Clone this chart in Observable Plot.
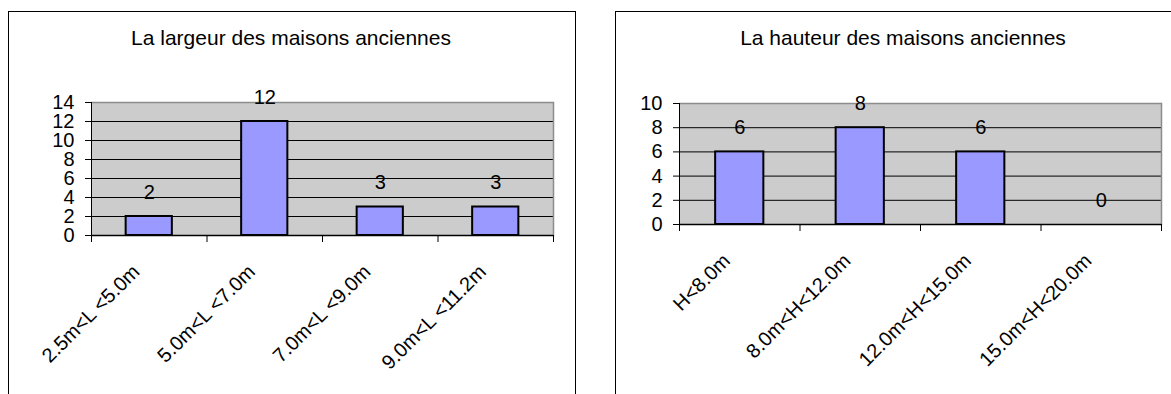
<!DOCTYPE html>
<html>
<head>
<meta charset="utf-8">
<script src="https://cdn.jsdelivr.net/npm/d3@7"></script>
<script src="https://cdn.jsdelivr.net/npm/@observablehq/plot@0.6"></script>
<style>
  html, body { margin: 0; padding: 0; background: #fff; }
  #page { position: relative; width: 1171px; height: 394px; overflow: hidden; font-family: "Liberation Sans", Arial, sans-serif; color: #000; }
  .panel { position: absolute; border: 1px solid #000; box-sizing: border-box; }
  .title { position: absolute; text-align: center; font-size: 21px; line-height: 21px; white-space: nowrap; }
  .chart { position: absolute; top: 0; }
</style>
</head>
<body>
<div id="page"></div>
<script>
// ---- data ----
const widthTitle = "La largeur des maisons anciennes";
const widthCategories = ["2.5m<L <5.0m", "5.0m<L <7.0m", "7.0m<L <9.0m", "9.0m<L <11.2m"];
const widthValues = [2, 12, 3, 3];
const widthTicks = [0, 2, 4, 6, 8, 10, 12, 14];

const heightTitle = "La hauteur des maisons anciennes";
const heightCategories = ["H<8.0m", "8.0m<H<12.0m", "12.0m<H<15.0m", "15.0m<H<20.0m"];
const heightValues = [6, 8, 6, 0];
const heightTicks = [0, 2, 4, 6, 8, 10];

// ---- drawing ----
const page = document.getElementById("page");

function addPanel(left, top, width, height) {
  const d = document.createElement("div");
  d.className = "panel";
  Object.assign(d.style, {left: left + "px", top: top + "px", width: width + "px", height: height + "px"});
  page.appendChild(d);
}
function addTitle(text, center, top) {
  const d = document.createElement("div");
  d.className = "title";
  d.textContent = text;
  Object.assign(d.style, {left: (center - 250) + "px", width: "500px", top: top + "px"});
  page.appendChild(d);
}

function makeChart(categories, values, ticks, cfg) {
  const data = categories.map((c, i) => ({i, cat: c, value: values[i]}));
  const ymax = ticks[ticks.length - 1];
  const bounds = d3.range(categories.length + 1);
  const svg = Plot.plot({
    width: cfg.width,
    height: 394,
    marginLeft: cfg.ml, marginRight: cfg.mr, marginTop: cfg.mt, marginBottom: cfg.mb,
    style: {fontFamily: "Liberation Sans, Arial, sans-serif", fontSize: "20px", color: "#000", background: "transparent", overflow: "visible"},
    x: {domain: [0, categories.length], axis: null},
    y: {domain: [0, ymax], axis: null},
    marks: [
      Plot.frame({fill: "#cccccc", stroke: null}),
      Plot.ruleY(ticks.filter(t => t > 0 && t < ymax), {stroke: "#000", strokeWidth: 1}),
      Plot.ruleY([ymax], {stroke: "#8c8c8c", strokeWidth: 1.5}),
      Plot.frame({anchor: "right", stroke: "#8c8c8c", strokeWidth: 1.5}),
      Plot.rectY(data, {x1: d => d.i + 0.3, x2: d => d.i + 0.7, y: "value", fill: "#9999ff", stroke: "#000", strokeWidth: 2}),
      Plot.ruleX([0], {stroke: "#000", strokeWidth: 1}),
      Plot.ruleY([0], {stroke: "#000", strokeWidth: 1.5}),
      Plot.axisY(ticks, {anchor: "left", tickSize: 6, tickPadding: 11, label: null, fontSize: 20, stroke: "#000"}),
      Plot.axisX(bounds, {anchor: "bottom", tickSize: 7, tickFormat: () => "", label: null, stroke: "#000"}),
      Plot.text(data, {x: d => d.i + 0.5, y: "value", text: d => String(d.value), dy: -24, fontSize: 20, fill: "#000"}),
      Plot.text(data, {x: d => d.i + 0.5, y: () => 0, text: "cat", rotate: -45, textAnchor: "end", lineAnchor: "middle", dx: -13, dy: 33, fontSize: 20, fill: "#000"})
    ]
  });
  svg.classList.add("chart");
  svg.style.left = cfg.left + "px";
  page.appendChild(svg);
}

addPanel(8, 11, 568, 420);
addPanel(615, 11, 620, 420);

makeChart(widthCategories, widthValues, widthTicks, {left: 0, width: 590, ml: 91, mr: 37, mt: 102, mb: 159});
makeChart(heightCategories, heightValues, heightTicks, {left: 590, width: 581, ml: 89, mr: 10, mt: 103, mb: 170});

addTitle(widthTitle, 291, 27);
addTitle(heightTitle, 903, 27);
</script>
</body>
</html>
